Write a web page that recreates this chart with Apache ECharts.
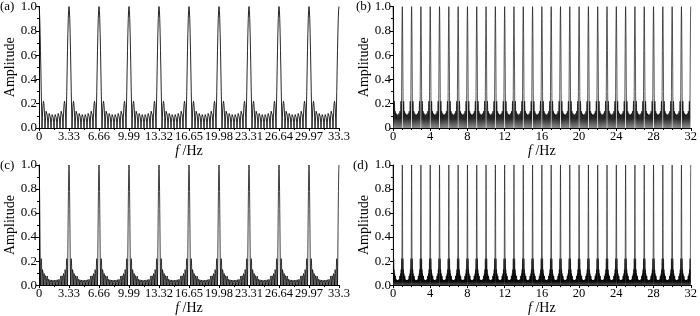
<!DOCTYPE html>
<html>
<head>
<meta charset="utf-8">
<script src="https://cdn.jsdelivr.net/npm/echarts@6/dist/echarts.min.js"></script>
<style>
html,body{margin:0;padding:0;background:#fff;}
#c{width:700px;height:316px;}
</style>
</head>
<body>
<div id="c"></div>
<script>
// ---- data ----
const peaksA = [0, 3.33, 6.66, 9.99, 13.32, 16.65, 19.98, 23.31, 26.64, 29.97, 33.3];
const peaksB = [0,1,2,3,4,5,6,7,8,9,10,11,12,13,14,15,16,17,18,19,20,21,22,23,24,25,26,27,28,29,30,31,32];
const peaksC = [0, 3.33, 6.66, 9.99, 13.32, 16.65, 19.98, 23.31, 26.64, 29.97, 33.3];
const peaksD = [0,1,2,3,4,5,6,7,8,9,10,11,12,13,14,15,16,17,18,19,20,21,22,23,24,25,26,27,28,29,30,31,32];
// main lobe profile (peak down to first null)
const mainLobeA = [1.0, 0.97, 0.90, 0.78, 0.64, 0.47, 0.30, 0.14, 0.0];
const mainLobeB = [1.0, 0.97, 0.90, 0.78, 0.64, 0.47, 0.30, 0.14, 0.0];
const mainLobeC = [1.0, 0.97, 0.90, 0.78, 0.64, 0.47, 0.30, 0.14, 0.0];
const mainLobeD = [1.0, 0.97, 0.90, 0.78, 0.64, 0.47, 0.30, 0.14, 0.0];
// shape of one side lobe (relative to its height)
const lobeShape = [0, 0.38, 0.71, 0.92, 1.0, 0.92, 0.71, 0.38, 0];
// side-lobe heights between two main peaks
const sideLobesA = [0.22, 0.15, 0.13, 0.12, 0.12, 0.13, 0.15, 0.22];
const sideLobesB = [0.22, 0.15, 0.13, 0.12, 0.12, 0.13, 0.15, 0.22];
const sideLobesC = [0.22, 0.14, 0.105, 0.085, 0.075, 0.068, 0.063, 0.06, 0.058, 0.058, 0.06, 0.063, 0.068, 0.075, 0.085, 0.105, 0.14, 0.22];
const sideLobesD = [0.22, 0.14, 0.105, 0.085, 0.075, 0.068, 0.063, 0.06, 0.058, 0.058, 0.06, 0.063, 0.068, 0.075, 0.085, 0.105, 0.14, 0.22];
// tick labels
const xTicksAC = ['0','3.33','6.66','9.99','13.32','16.65','19.98','23.31','26.64','29.97','33.3'];
const xTicksBD = ['0','4','8','12','16','20','24','28','32'];
const yTicks = ['0.0','0.2','0.4','0.6','0.8','1.0'];
const yTicksB = ['0','0.2','0.4','0.6','0.8','1.0'];
const panelLabels = ['(a)','(b)','(c)','(d)'];

// ---- build polylines from the read values ----
function buildCurve(peaks, main, lobes) {
  const pts = [];
  const m = main.length;
  const s = lobeShape.length;
  const N = lobes.length + 2;
  for (let i = 0; i < peaks.length; i++) {
    const p = peaks[i];
    const wPrev = i > 0 ? (p - peaks[i-1]) / N : 0;
    const wNext = i < peaks.length - 1 ? (peaks[i+1] - p) / N : 0;
    if (i > 0) {
      for (let j = m - 2; j >= 1; j--) pts.push([p - j/(m-1)*wPrev, main[j]]);
    }
    pts.push([p, main[0]]);
    if (i < peaks.length - 1) {
      for (let j = 1; j < m; j++) pts.push([p + j/(m-1)*wNext, main[j]]);
      for (let k = 1; k <= N - 2; k++) {
        for (let q = 1; q < s; q++) {
          pts.push([p + (k + q/(s-1))*wNext, lobes[k-1]*lobeShape[q]]);
        }
      }
    }
  }
  return pts;
}

const font = '"Liberation Serif", "Times New Roman", serif';
const grids = [
  {left: 39, top: 6, width: 300, height: 122},
  {left: 393, top: 6, width: 298, height: 122},
  {left: 39, top: 165, width: 300, height: 121},
  {left: 393, top: 165, width: 298, height: 121}
];

function xAxis(idx, isAC) {
  return {
    type: 'value', gridIndex: idx, min: 0, max: isAC ? 33.3 : 32, interval: isAC ? 3.33 : 4,
    name: '{i|f} /Hz', nameLocation: 'middle', nameGap: 13,
    nameTextStyle: {fontFamily: font, fontSize: 14, color: '#000',
      rich: {i: {fontFamily: font, fontStyle: 'italic', fontSize: 14, color: '#000'}}},
    axisLine: {show: true, onZero: false, lineStyle: {color: '#000', width: 1}},
    axisTick: {show: true, inside: false, length: 3, lineStyle: {color: '#000'}},
    minorTick: {show: true, splitNumber: isAC ? 2 : 4, length: 2, lineStyle: {color: '#000'}},
    axisLabel: {margin: 2, fontFamily: font, fontSize: 12.5, color: '#000',
      formatter: v => isAC ? xTicksAC[Math.round(v/3.33)] : xTicksBD[Math.round(v/4)]},
    splitLine: {show: false}
  };
}
function yAxis(idx, labels) {
  return {
    type: 'value', gridIndex: idx, min: 0, max: 1, interval: 0.2,
    name: 'Amplitude', nameLocation: 'middle', nameGap: 22,
    nameTextStyle: {fontFamily: font, fontSize: 14, color: '#000'},
    axisLine: {show: true, lineStyle: {color: '#000', width: 1}},
    axisTick: {show: true, inside: false, length: 3, lineStyle: {color: '#000'}},
    minorTick: {show: true, splitNumber: 2, length: 2, lineStyle: {color: '#000'}},
    axisLabel: {margin: 2, fontFamily: font, fontSize: 13, color: '#000',
      formatter: v => labels[Math.round(v/0.2)]},
    splitLine: {show: false}
  };
}
function grad(stops) {
  return {type: 'linear', x: 0, y: 0, x2: 0, y2: 1,
    colorStops: stops.map(s => ({offset: s[0], color: s[1]}))};
}
function series(idx, data, w, color) {
  return {
    type: 'line', xAxisIndex: idx, yAxisIndex: idx, data: data,
    showSymbol: false, symbol: 'none', animation: false, progressive: 0,
    lineStyle: {color: color, width: w}
  };
}
// stroke tone by height (offset 0 = amplitude 1.0, offset 1 = amplitude 0)
const toneB = grad([[0, '#111'], [0.74, '#111'], [0.80, '#000'], [0.90, '#000'], [1, '#999']]);
const toneD = grad([[0, '#111'], [0.78, '#111'], [0.84, '#000'], [0.95, '#000'], [1, '#777']]);

const option = {
  animation: false,
  grid: grids,
  xAxis: [xAxis(0, true), xAxis(1, false), xAxis(2, true), xAxis(3, false)],
  yAxis: [yAxis(0, yTicks), yAxis(1, yTicksB), yAxis(2, yTicks), yAxis(3, yTicks)],
  series: [
    series(0, buildCurve(peaksA, mainLobeA, sideLobesA), 0.9, '#111'),
    series(1, buildCurve(peaksB, mainLobeB, sideLobesB), 0.7, toneB),
    series(2, buildCurve(peaksC, mainLobeC, sideLobesC), 0.75, '#000'),
    series(3, buildCurve(peaksD, mainLobeD, sideLobesD), 0.65, toneD)
  ],
  graphic: [
    {type: 'text', left: 0, top: 0, style: {text: panelLabels[0], font: '13px ' + font, fill: '#000'}},
    {type: 'text', left: 356, top: 0, style: {text: panelLabels[1], font: '13px ' + font, fill: '#000'}},
    {type: 'text', left: 0, top: 159, style: {text: panelLabels[2], font: '13px ' + font, fill: '#000'}},
    {type: 'text', left: 353, top: 159, style: {text: panelLabels[3], font: '13px ' + font, fill: '#000'}}
  ]
};
const chart = echarts.init(document.getElementById('c'), null, {renderer: 'canvas'});
chart.setOption(option);
</script>
</body>
</html>
